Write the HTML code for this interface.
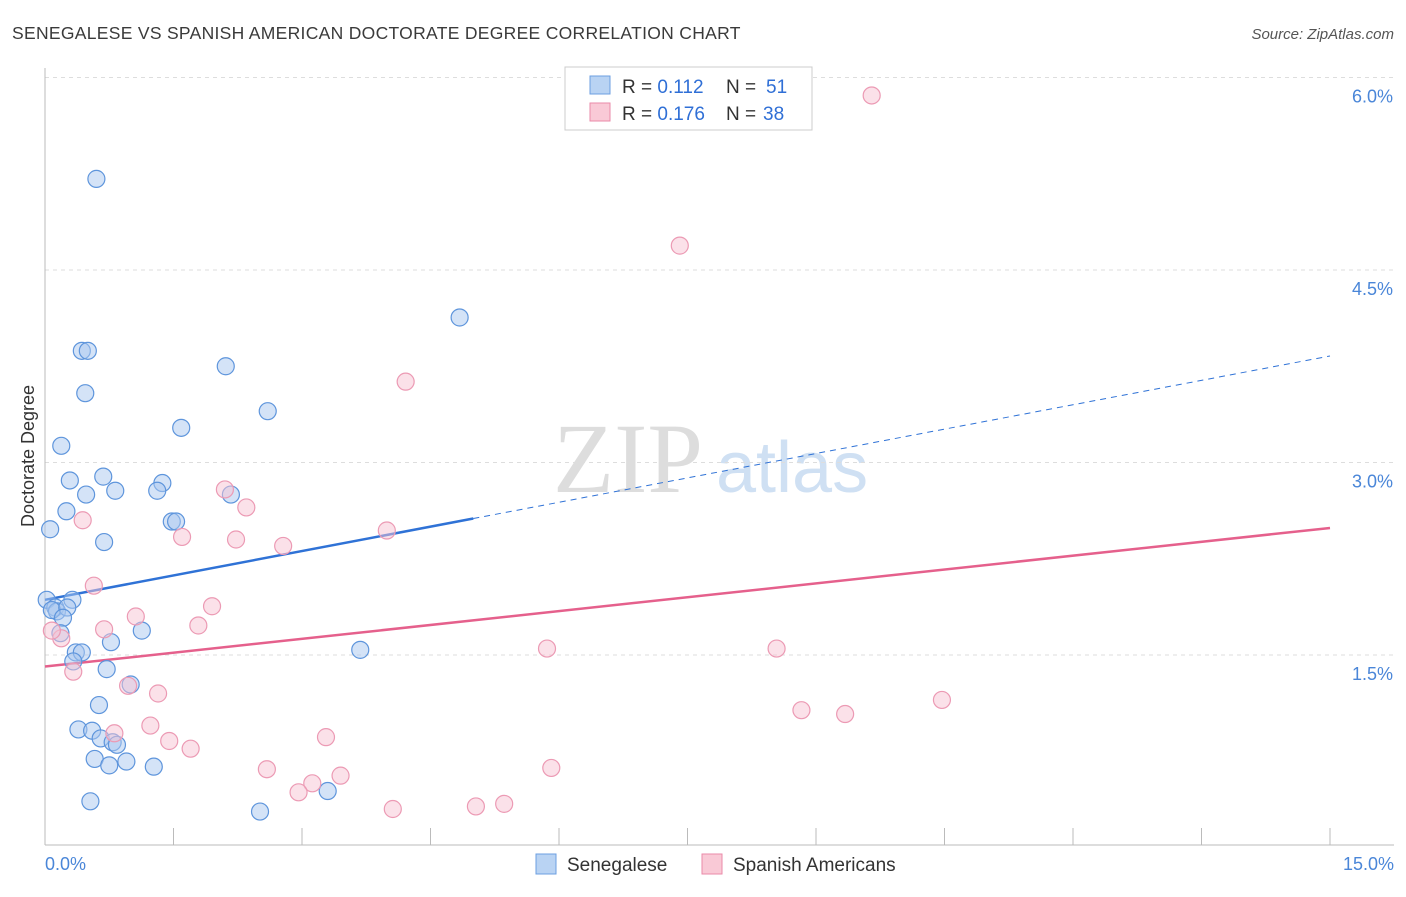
<!DOCTYPE html>
<html><head><meta charset="utf-8"><style>
body{margin:0;background:#fff;font-family:"Liberation Sans",sans-serif;}
</style></head><body>
<svg width="1406" height="892" xmlns="http://www.w3.org/2000/svg">
<text x="12" y="39" font-size="17.5" fill="#3a3a3a" letter-spacing="0.3">SENEGALESE VS SPANISH AMERICAN DOCTORATE DEGREE CORRELATION CHART</text>
<text x="1394" y="39" font-size="15" fill="#555" text-anchor="end" font-style="italic">Source: ZipAtlas.com</text>
<text x="553" y="492" font-size="100" fill="#ddd" font-family="Liberation Serif">ZIP</text>
<text x="716" y="492" font-size="72" fill="#cfe0f3">atlas</text>
<g id="grid"></g>
<g id="axes"></g>
<g id="trend"></g>
<g id="pts"></g>
<text transform="translate(34,456) rotate(-90)" font-size="18" fill="#333" text-anchor="middle">Doctorate Degree</text>
<g>
<rect x="565" y="67" width="247" height="63" fill="#fff" stroke="#ccc"/>
<rect x="590" y="76" width="20" height="18" fill="#b9d3f3" stroke="#6c9fe0"/>
<rect x="590" y="103" width="20" height="18" fill="#f9c9d6" stroke="#ea8aa8"/>
<text x="622" y="93" font-size="19" fill="#333">R = <tspan fill="#2f6fd6">0.112</tspan><tspan x="726">N = </tspan><tspan x="766" fill="#2f6fd6">51</tspan></text>
<text x="622" y="120" font-size="19" fill="#333">R = <tspan fill="#2f6fd6">0.176</tspan><tspan x="726">N = </tspan><tspan x="763" fill="#2f6fd6">38</tspan></text>
</g>
<g>
<rect x="536" y="854" width="20" height="20" fill="#b9d3f3" stroke="#6c9fe0"/>
<text x="567" y="871" font-size="19" fill="#333">Senegalese</text>
<rect x="702" y="854" width="20" height="20" fill="#f9c9d6" stroke="#ea8aa8"/>
<text x="733" y="871" font-size="19" fill="#333">Spanish Americans</text>
</g>
</svg>
<script>
const yTicks=[1.5,3.0,4.5,6.0];
const yTickLabels=["1.5%","3.0%","4.5%","6.0%"];
const xTicks=[0,1.5,3,4.5,6,7.5,9,10.5,12,13.5,15];
const blueX=[0.60,4.84,0.43,0.50,2.11,0.47,2.60,1.59,0.19,0.68,0.29,1.37,0.82,1.31,0.48,2.17,0.25,1.48,1.53,0.06,0.69,0.02,0.32,0.12,0.14,0.08,0.26,0.21,1.13,0.18,0.77,3.68,0.36,0.43,0.33,0.72,1.00,0.63,0.39,0.55,0.65,0.79,0.84,0.58,0.75,0.95,1.27,0.53,3.30,2.51];
const blueY=[5.21,4.13,3.87,3.87,3.75,3.54,3.40,3.27,3.13,2.89,2.86,2.84,2.78,2.78,2.75,2.75,2.62,2.54,2.54,2.48,2.38,1.93,1.93,1.87,1.84,1.85,1.87,1.79,1.69,1.67,1.60,1.54,1.52,1.52,1.45,1.39,1.27,1.11,0.92,0.91,0.85,0.82,0.80,0.69,0.64,0.67,0.63,0.36,0.44,0.28];
const pinkX=[9.65,7.41,4.21,2.10,2.35,0.44,1.60,2.23,3.99,2.78,0.57,1.95,1.06,1.79,0.69,0.19,0.08,5.86,8.54,0.33,0.97,1.32,10.47,8.83,9.34,1.23,0.81,3.28,1.45,1.70,2.59,5.91,3.45,3.12,2.96,4.06,5.03,5.36];
const pinkY=[5.86,4.69,3.63,2.79,2.65,2.55,2.42,2.40,2.47,2.35,2.04,1.88,1.80,1.73,1.70,1.63,1.69,1.55,1.55,1.37,1.26,1.20,1.15,1.07,1.04,0.95,0.89,0.86,0.83,0.77,0.61,0.62,0.56,0.50,0.43,0.30,0.32,0.34];
const blueTrend=[1.93,3.83];
const pinkTrend=[1.41,2.49];
const blueSolidEnd=5.0;
const X=v=>45+v/15*1285, Y=v=>847.5-v/1.5*192.5;
const NS="http://www.w3.org/2000/svg";
function mk(t,a,p){const e=document.createElementNS(NS,t);for(const k in a)e.setAttribute(k,a[k]);document.getElementById(p).appendChild(e);return e;}
yTicks.forEach((t,i)=>{
 const l=mk('line',{x1:45,x2:1394,y1:Y(t),y2:Y(t),stroke:'#ddd','stroke-dasharray':'4,4'},'grid');
 
 
 const tx=mk('text',{x:1393,y:Y(t)+25,'font-size':18,fill:'#4a86d8','text-anchor':'end'},'grid');
 tx.textContent=yTickLabels[i];
 
 
});
let a=mk('line',{x1:45,x2:45,y1:68,y2:845,stroke:'#bbb'},'axes');


a=mk('line',{x1:45,x2:1394,y1:845,y2:845,stroke:'#bbb'},'axes');


xTicks.forEach(t=>{const l=mk('line',{x1:X(t),x2:X(t),y1:828,y2:845,stroke:'#bbb'},'axes');
 
 });
let t=mk('text',{x:45,y:870,'font-size':18,fill:'#4a86d8'},'axes');t.textContent='0.0%';


t=mk('text',{x:1394,y:870,'font-size':18,fill:'#4a86d8','text-anchor':'end'},'axes');t.textContent='15.0%';


for(let i=0;i<blueX.length;i++){const c=mk('circle',{cx:X(blueX[i]),cy:Y(blueY[i]),r:8.5,fill:'rgba(170,200,240,0.5)',stroke:'#5e95dc','stroke-width':1.2},'pts');
 
 }
for(let i=0;i<pinkX.length;i++){const c=mk('circle',{cx:X(pinkX[i]),cy:Y(pinkY[i]),r:8.5,fill:'rgba(248,195,212,0.5)',stroke:'#ec9ab4','stroke-width':1.2},'pts');
 
 }
const by=v=>blueTrend[0]+(blueTrend[1]-blueTrend[0])*v/15;
let l=mk('line',{x1:X(0),y1:Y(by(0)),x2:X(blueSolidEnd),y2:Y(by(blueSolidEnd)),stroke:'#2f72d6','stroke-width':2.5},'trend');


l=mk('line',{x1:X(blueSolidEnd),y1:Y(by(blueSolidEnd)),x2:X(15),y2:Y(by(15)),stroke:'#2f72d6','stroke-width':1,'stroke-dasharray':'6,5'},'trend');


l=mk('line',{x1:X(0),y1:Y(pinkTrend[0]),x2:X(15),y2:Y(pinkTrend[1]),stroke:'#e5608c','stroke-width':2.5},'trend');


</script>
</body></html>
